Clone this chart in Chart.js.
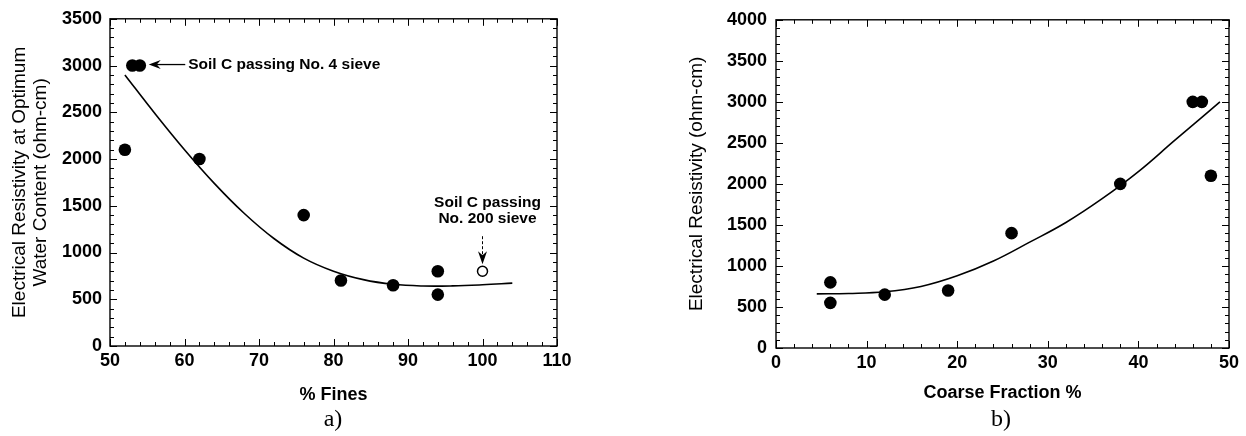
<!DOCTYPE html>
<html>
<head>
<meta charset="utf-8">
<script src="https://cdn.jsdelivr.net/npm/chart.js@4.4.1/dist/chart.umd.min.js"></script>
<style>
  body { margin: 0; background: #fff; width: 1246px; height: 436px; position: relative; overflow: hidden; }
  #chartA { position: absolute; left: 0; top: 0; }
  #chartB { position: absolute; left: 623px; top: 0; }
  .cap { position: absolute; top: 405px; line-height: 26px; font: 24px "Liberation Serif", "Times New Roman", serif; color: #000; transform: translateX(-50%); }
</style>
</head>
<body>
<canvas id="chartA" width="600" height="436"></canvas>
<canvas id="chartB" width="623" height="436"></canvas>
<div class="cap" style="left:333px">a)</div>
<div class="cap" style="left:1001px">b)</div>
<script>
// a) resistivity vs % fines
const finesX = [52, 53, 54, 62, 76, 81, 88, 94, 94];
const finesY = [2100, 3000, 3000, 2000, 1400, 700, 650, 800, 550];
const passing200X = [100];
const passing200Y = [800];
const finesFitX = [52, 56, 60, 64, 68, 72, 76, 80, 84, 88, 92, 96, 100, 104];
const finesFitY = [2900, 2490, 2100, 1740, 1420, 1150, 940, 800, 710, 660, 642, 643, 655, 673];
const finesTicks = [50, 60, 70, 80, 90, 100, 110];
const finesResTicks = [0, 500, 1000, 1500, 2000, 2500, 3000, 3500];

// b) resistivity vs coarse fraction
const coarseX = [6, 6, 12, 19, 26, 38, 46, 47, 48];
const coarseY = [800, 550, 650, 700, 1400, 2000, 3000, 3000, 2100];
const coarseFitX = [4.5, 8, 12, 16, 20, 24, 28, 32, 36, 40, 44, 47, 49];
const coarseFitY = [660, 665, 685, 750, 880, 1060, 1290, 1530, 1820, 2150, 2530, 2810, 3000];
const coarseTicks = [0, 10, 20, 30, 40, 50];
const coarseResTicks = [0, 500, 1000, 1500, 2000, 2500, 3000, 3500, 4000];

const pts = (xs, ys) => xs.map((x, i) => ({ x: x, y: ys[i] }));

// frame + inward ticks on all four sides
const frameTicks = {
    id: 'frameTicks',
    beforeDatasetsDraw(chart, args, opts) {
        const { ctx, chartArea: a, scales: { x, y } } = chart;
        ctx.save();
        ctx.strokeStyle = '#000';
        ctx.lineWidth = 1.4;
        ctx.strokeRect(a.left, a.top, a.right - a.left, a.bottom - a.top);
        ctx.lineWidth = 1;
        ctx.beginPath();
        for (let v = x.min; v <= x.max + 1e-6; v += opts.xMinor) {
            const px = Math.round(x.getPixelForValue(v)) + 0.5;
            const len = Math.abs(v % opts.xMajor) < 1e-6 ? 7 : 4;
            ctx.moveTo(px, a.bottom); ctx.lineTo(px, a.bottom - len);
            ctx.moveTo(px, a.top); ctx.lineTo(px, a.top + len);
        }
        for (let v = y.min; v <= y.max + 1e-6; v += opts.yMinor) {
            const py = Math.round(y.getPixelForValue(v)) + 0.5;
            const len = Math.abs(v % opts.yMajor) < 1e-6 ? 7 : 4;
            ctx.moveTo(a.left, py); ctx.lineTo(a.left + len, py);
            ctx.moveTo(a.right, py); ctx.lineTo(a.right - len, py);
        }
        ctx.stroke();
        ctx.restore();
    }
};

// the two "Soil C" notes on chart a)
const soilNotes = {
    id: 'soilNotes',
    afterDatasetsDraw(chart) {
        const { ctx, scales: { x, y } } = chart;
        ctx.save();
        ctx.fillStyle = '#000';
        ctx.strokeStyle = '#000';
        ctx.font = 'bold 15.5px "Liberation Sans", Arial, sans-serif';

        // No. 4 sieve: arrow pointing left at the two points
        const ty = y.getPixelForValue(3000) - 1;
        const tipX = x.getPixelForValue(55.2);
        const endX = x.getPixelForValue(60.1);
        ctx.beginPath();
        ctx.moveTo(tipX, ty);
        ctx.lineTo(tipX + 12, ty - 4.5);
        ctx.lineTo(tipX + 8, ty);
        ctx.lineTo(tipX + 12, ty + 4.5);
        ctx.closePath();
        ctx.fill();
        ctx.lineWidth = 1.3;
        ctx.beginPath();
        ctx.moveTo(tipX + 8, ty);
        ctx.lineTo(endX, ty);
        ctx.stroke();
        ctx.textAlign = 'left';
        ctx.textBaseline = 'middle';
        ctx.fillText('Soil C passing No. 4 sieve', endX + 3, ty);

        // No. 200 sieve: dashed arrow pointing down at the open circle
        const cx = x.getPixelForValue(passing200X[0]);
        const tipY = y.getPixelForValue(passing200Y[0]) - 7;
        ctx.beginPath();
        ctx.moveTo(cx, tipY);
        ctx.lineTo(cx - 4.5, tipY - 13);
        ctx.lineTo(cx, tipY - 9);
        ctx.lineTo(cx + 4.5, tipY - 13);
        ctx.closePath();
        ctx.fill();
        ctx.lineWidth = 1;
        ctx.setLineDash([3, 2]);
        ctx.beginPath();
        ctx.moveTo(cx, tipY - 10);
        ctx.lineTo(cx, tipY - 30);
        ctx.stroke();
        ctx.setLineDash([]);
        ctx.textAlign = 'center';
        ctx.fillText('Soil C passing', cx + 5, tipY - 61);
        ctx.fillText('No. 200 sieve', cx + 5, tipY - 45);
        ctx.restore();
    }
};

const tickFont = { family: '"Liberation Sans", Arial, sans-serif', size: 18, weight: 'bold' };
const titleFont = { family: '"Liberation Sans", Arial, sans-serif', size: 19, lineHeight: 1.1 };

function makeChart(id, cfg) {
    return new Chart(document.getElementById(id), {
        type: 'scatter',
        data: {
            datasets: [
                {
                    data: cfg.points,
                    pointRadius: 6.3,
                    pointBackgroundColor: '#000',
                    pointBorderWidth: 0,
                    order: 0
                },
                {
                    data: cfg.open,
                    pointRadius: 5,
                    pointBackgroundColor: '#fff',
                    pointBorderColor: '#000',
                    pointBorderWidth: 1.5,
                    order: 0
                },
                {
                    data: cfg.fit,
                    showLine: true,
                    borderColor: '#000',
                    borderWidth: 1.6,
                    pointRadius: 0,
                    tension: 0.4,
                    order: 1
                }
            ]
        },
        options: {
            responsive: false,
            animation: false,
            layout: { padding: cfg.padding },
            plugins: {
                legend: { display: false },
                tooltip: { enabled: false },
                frameTicks: cfg.ticks
            },
            scales: {
                x: {
                    type: 'linear',
                    min: cfg.xTicks[0],
                    max: cfg.xTicks[cfg.xTicks.length - 1],
                    afterBuildTicks: s => { s.ticks = cfg.xTicks.map(v => ({ value: v })); },
                    afterFit: s => { s.height = cfg.xHeight; },
                    grid: { display: false, drawTicks: false },
                    border: { display: false },
                    ticks: { color: '#000', font: tickFont, padding: 4, maxRotation: 0, callback: v => String(v) },
                    title: { display: true, text: cfg.xTitle, color: '#000', font: { family: tickFont.family, size: 18, weight: 'bold' }, padding: 0 }
                },
                y: {
                    type: 'linear',
                    min: cfg.yTicks[0],
                    max: cfg.yTicks[cfg.yTicks.length - 1],
                    afterBuildTicks: s => { s.ticks = cfg.yTicks.map(v => ({ value: v })); },
                    afterFit: s => { s.width = cfg.yWidth; },
                    grid: { display: false, drawTicks: false },
                    border: { display: false },
                    ticks: { color: '#000', font: tickFont, padding: cfg.yPad, callback: v => String(v) },
                    title: { display: true, text: cfg.yTitle, color: '#000', font: titleFont, padding: { top: cfg.yTitlePad, bottom: 0 } }
                }
            }
        },
        plugins: cfg.plugins
    });
}

makeChart('chartA', {
    points: pts(finesX, finesY),
    open: pts(passing200X, passing200Y),
    fit: pts(finesFitX, finesFitY),
    xTicks: finesTicks,
    yTicks: finesResTicks,
    xTitle: '% Fines',
    yTitle: ['Electrical Resistivity at Optimum', 'Water Content (ohm-cm)'],
    padding: { top: 17, right: 43, bottom: 30, left: 0 },
    xHeight: 60,
    yWidth: 110,
    yPad: 8,
    yTitlePad: 9.5,
    ticks: { xMinor: 2, xMajor: 10, yMinor: 100, yMajor: 500 },
    plugins: [frameTicks, soilNotes]
});

makeChart('chartB', {
    points: pts(coarseX, coarseY),
    open: [],
    fit: pts(coarseFitX, coarseFitY),
    xTicks: coarseTicks,
    yTicks: coarseResTicks,
    xTitle: 'Coarse Fraction %',
    yTitle: 'Electrical Resistivity (ohm-cm)',
    padding: { top: 17, right: 17, bottom: 32, left: 0 },
    xHeight: 56,
    yWidth: 153,
    yPad: 9,
    yTitlePad: 63.5,
    ticks: { xMinor: 2, xMajor: 10, yMinor: 100, yMajor: 500 },
    plugins: [frameTicks]
});
</script>
</body>
</html>
